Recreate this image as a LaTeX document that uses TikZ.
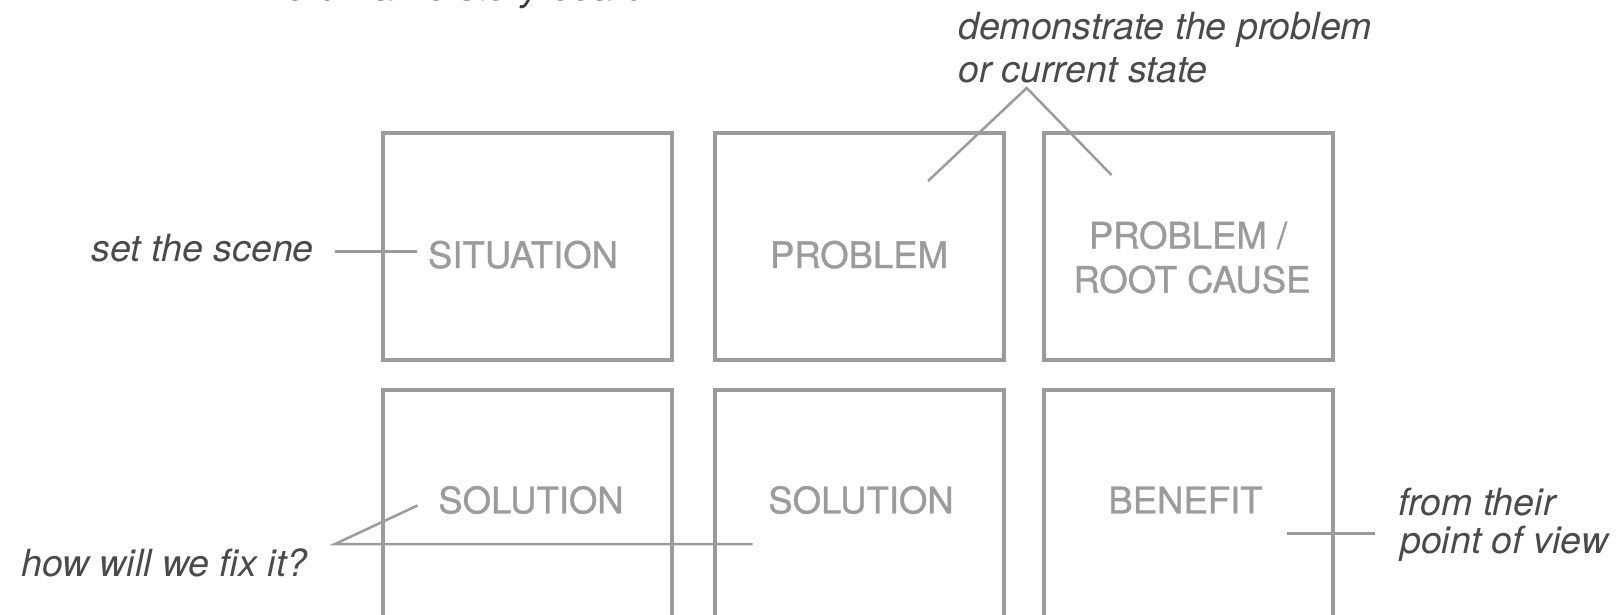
\documentclass[tikz,border=0pt]{standalone}
\usepackage{fontspec}
\setmainfont{TeX Gyre Heros}
\newfontfamily\framefont[FakeBold=0.9]{TeX Gyre Heros}
\definecolor{framegray}{HTML}{9B9B9B}
\definecolor{notegray}{HTML}{4A4A4A}
\definecolor{titlegray}{HTML}{3A3A3A}
\begin{document}
\begin{tikzpicture}[x=1pt,y=-1pt,
  frame/.style={draw=framegray,line width=4.2pt,minimum width=289pt,minimum height=227pt,inner sep=0pt,outer sep=0pt},
  lbl/.style={text=framegray,font=\framefont\fontsize{36.5}{44}\selectfont,inner sep=0pt,anchor=base},
  note/.style={text=notegray,font=\fontsize{37.5}{44}\selectfont\itshape,inner sep=0pt,anchor=base west},
  link/.style={draw=framegray,line width=2.5pt}]
\useasboundingbox (0,0) rectangle (1617,614);
% title (cut off at the top edge)
\node[note,text=titlegray,font=\fontsize{38}{44}\selectfont\itshape] (title) at (242,0.3) {The 6-frame story board};
% frames
\node[frame] (b1) at (527.5,246.5) {};
\node[frame] (b2) at (859.5,246.5) {};
\node[frame] (b3) at (1188.5,246.5) {};
\node[frame] (b4) at (527.5,503.5) {};
\node[frame] (b5) at (859.5,503.5) {};
\node[frame] (b6) at (1188.5,503.5) {};
% frame labels
\node[lbl] (t1) at (523,268) {SITUATION};
\node[lbl] (t2) at (859,268) {PROBLEM};
\node[lbl] (t3a) at (1188,248.5) {PROBLEM /};
\node[lbl] (t3b) at (1192,292.7) {ROOT CAUSE};
\node[lbl] (t4) at (531,513.3) {SOLUTION};
\node[lbl] (t5) at (861,513.3) {SOLUTION};
\node[lbl] (t6) at (1185.5,513.3) {BENEFIT};
% notes
\node[note] (n1) at (91.7,261) {set the scene};
\node[note] (n2a) at (958,39.3) {demonstrate the problem};
\node[note] (n2b) at (958,82) {or current state};
\node[note] (n3) at (21,576) {how will we fix it?};
\node[note] (n4a) at (1398,515.5) {from their};
\node[note] (n4b) at (1400,553) {point of view};
% connectors
\coordinate (s1) at (335,251.5);
\coordinate (s2) at (417,251.5);
\draw[link] (s1) -- (s2);
\coordinate (d0) at (1026.7,88);
\coordinate (d1) at (928,181);
\coordinate (d2) at (1111.5,175);
\draw[link] (d1) -- (d0) -- (d2);
\coordinate (h1) at (417.5,505.5);
\coordinate (h0) at (335,544);
\coordinate (h2) at (752.6,544);
\draw[link] (h1) -- (h0) -- (h2);
\coordinate (e1) at (1287,533.3);
\coordinate (e2) at (1375,533.3);
\draw[link] (e1) -- (e2);
\end{tikzpicture}
\end{document}
